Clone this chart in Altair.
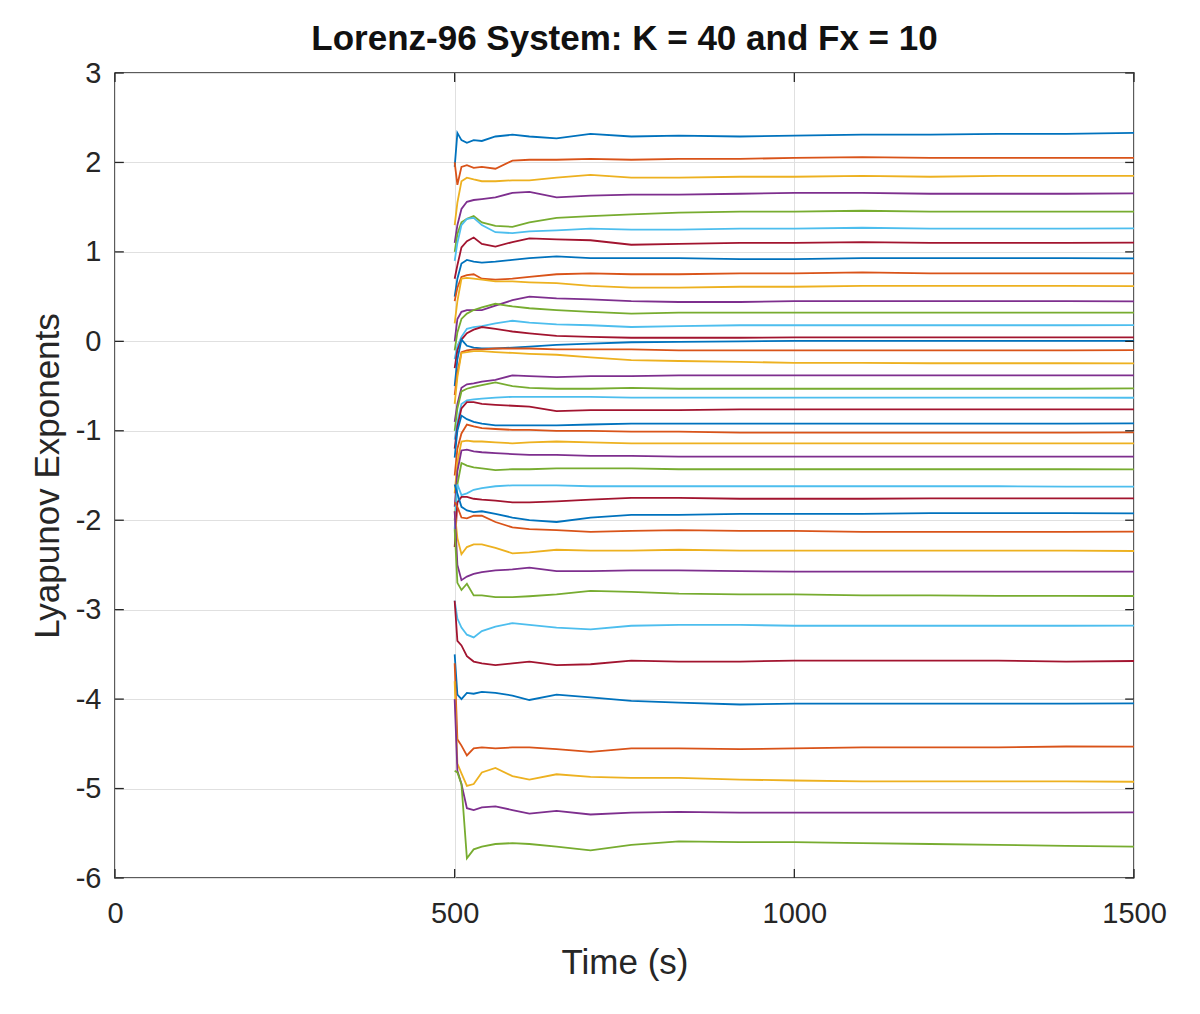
import altair as alt
import pandas as pd

# ---- data ----
times = [500, 504, 510, 518, 528, 540, 560, 585, 610, 650, 700, 760, 830, 920, 1000, 1100, 1200, 1300, 1400, 1500]

lam_01 = [1.95, 2.33, 2.25, 2.22, 2.25, 2.24, 2.29, 2.31, 2.29, 2.27, 2.32, 2.29, 2.30, 2.29, 2.30, 2.31, 2.31, 2.32, 2.32, 2.33]
lam_02 = [2.00, 1.75, 1.95, 1.97, 1.94, 1.95, 1.93, 2.02, 2.03, 2.03, 2.04, 2.03, 2.04, 2.04, 2.05, 2.06, 2.05, 2.05, 2.05, 2.05]
lam_03 = [1.30, 1.55, 1.79, 1.83, 1.81, 1.79, 1.79, 1.80, 1.80, 1.83, 1.86, 1.83, 1.83, 1.84, 1.84, 1.85, 1.84, 1.85, 1.85, 1.85]
lam_04 = [1.10, 1.30, 1.48, 1.56, 1.58, 1.59, 1.61, 1.66, 1.67, 1.61, 1.63, 1.64, 1.64, 1.65, 1.66, 1.66, 1.65, 1.65, 1.65, 1.655]
lam_05 = [1.00, 1.20, 1.33, 1.37, 1.40, 1.33, 1.29, 1.28, 1.33, 1.38, 1.40, 1.42, 1.44, 1.45, 1.45, 1.46, 1.45, 1.45, 1.45, 1.45]
lam_06 = [0.90, 1.10, 1.30, 1.37, 1.38, 1.30, 1.22, 1.21, 1.23, 1.24, 1.26, 1.25, 1.25, 1.26, 1.26, 1.27, 1.26, 1.26, 1.26, 1.263]
lam_07 = [0.70, 0.85, 1.05, 1.12, 1.16, 1.09, 1.06, 1.11, 1.15, 1.14, 1.13, 1.08, 1.09, 1.10, 1.10, 1.11, 1.10, 1.10, 1.10, 1.103]
lam_08 = [0.50, 0.70, 0.87, 0.91, 0.89, 0.88, 0.89, 0.91, 0.93, 0.95, 0.93, 0.93, 0.93, 0.92, 0.92, 0.93, 0.93, 0.93, 0.93, 0.928]
lam_09 = [0.45, 0.60, 0.72, 0.74, 0.75, 0.70, 0.69, 0.70, 0.72, 0.75, 0.76, 0.75, 0.75, 0.76, 0.76, 0.77, 0.76, 0.76, 0.76, 0.76]
lam_10 = [0.20, 0.45, 0.70, 0.71, 0.70, 0.69, 0.67, 0.67, 0.66, 0.65, 0.62, 0.60, 0.60, 0.61, 0.61, 0.62, 0.62, 0.62, 0.62, 0.618]
lam_11 = [0.00, 0.25, 0.33, 0.35, 0.35, 0.35, 0.40, 0.46, 0.50, 0.48, 0.47, 0.45, 0.44, 0.44, 0.45, 0.45, 0.45, 0.45, 0.45, 0.447]
lam_12 = [-0.10, 0.10, 0.25, 0.31, 0.35, 0.38, 0.42, 0.39, 0.37, 0.35, 0.33, 0.31, 0.32, 0.32, 0.32, 0.32, 0.32, 0.32, 0.32, 0.32]
lam_13 = [-0.20, -0.05, 0.05, 0.14, 0.16, 0.17, 0.20, 0.23, 0.21, 0.19, 0.18, 0.16, 0.17, 0.18, 0.18, 0.18, 0.18, 0.18, 0.18, 0.182]
lam_14 = [-0.30, -0.10, 0.02, 0.09, 0.13, 0.16, 0.14, 0.11, 0.09, 0.06, 0.05, 0.04, 0.04, 0.04, 0.045, 0.045, 0.045, 0.045, 0.045, 0.044]
lam_15 = [-0.50, -0.20, 0.02, -0.05, -0.07, -0.08, -0.08, -0.07, -0.06, -0.04, -0.025, -0.01, -0.005, 0.0, 0.005, 0.005, 0.005, 0.006, 0.006, 0.006]
lam_16 = [-0.60, -0.35, -0.12, -0.10, -0.09, -0.09, -0.08, -0.08, -0.08, -0.09, -0.09, -0.09, -0.10, -0.10, -0.10, -0.10, -0.10, -0.10, -0.10, -0.098]
lam_17 = [-0.70, -0.40, -0.13, -0.12, -0.11, -0.11, -0.12, -0.13, -0.14, -0.15, -0.18, -0.21, -0.22, -0.23, -0.24, -0.24, -0.245, -0.245, -0.245, -0.246]
lam_18 = [-0.90, -0.70, -0.52, -0.48, -0.47, -0.45, -0.43, -0.38, -0.39, -0.40, -0.39, -0.39, -0.38, -0.38, -0.38, -0.38, -0.38, -0.38, -0.38, -0.381]
lam_19 = [-1.00, -0.75, -0.56, -0.53, -0.51, -0.49, -0.46, -0.50, -0.52, -0.53, -0.53, -0.52, -0.53, -0.53, -0.53, -0.53, -0.53, -0.53, -0.53, -0.526]
lam_20 = [-1.10, -0.90, -0.70, -0.66, -0.65, -0.64, -0.63, -0.62, -0.62, -0.62, -0.62, -0.63, -0.63, -0.63, -0.63, -0.63, -0.63, -0.63, -0.63, -0.631]
lam_21 = [-1.20, -0.95, -0.75, -0.68, -0.68, -0.70, -0.71, -0.72, -0.73, -0.78, -0.77, -0.77, -0.77, -0.76, -0.76, -0.76, -0.76, -0.76, -0.76, -0.761]
lam_22 = [-1.30, -1.00, -0.83, -0.87, -0.90, -0.92, -0.94, -0.94, -0.94, -0.94, -0.93, -0.92, -0.92, -0.92, -0.92, -0.92, -0.92, -0.92, -0.92, -0.917]
lam_23 = [-1.50, -1.20, -1.03, -0.93, -0.95, -0.97, -0.98, -0.99, -0.99, -1.00, -1.00, -1.01, -1.01, -1.02, -1.02, -1.02, -1.02, -1.02, -1.02, -1.018]
lam_24 = [-1.70, -1.35, -1.12, -1.11, -1.12, -1.12, -1.13, -1.14, -1.13, -1.12, -1.13, -1.14, -1.14, -1.14, -1.14, -1.14, -1.14, -1.14, -1.14, -1.141]
lam_25 = [-1.85, -1.45, -1.22, -1.21, -1.23, -1.24, -1.25, -1.26, -1.27, -1.27, -1.28, -1.28, -1.29, -1.29, -1.29, -1.29, -1.29, -1.29, -1.29, -1.29]
lam_26 = [-2.00, -1.60, -1.36, -1.39, -1.41, -1.42, -1.44, -1.43, -1.43, -1.42, -1.42, -1.42, -1.43, -1.43, -1.43, -1.43, -1.43, -1.43, -1.43, -1.431]
lam_27 = [-2.10, -1.60, -1.72, -1.70, -1.66, -1.64, -1.62, -1.61, -1.61, -1.61, -1.62, -1.62, -1.62, -1.62, -1.62, -1.62, -1.62, -1.62, -1.625, -1.625]
lam_28 = [-2.30, -1.80, -1.74, -1.74, -1.76, -1.77, -1.78, -1.80, -1.80, -1.79, -1.77, -1.75, -1.75, -1.76, -1.76, -1.76, -1.755, -1.755, -1.755, -1.755]
lam_29 = [-1.60, -1.70, -1.85, -1.89, -1.91, -1.90, -1.93, -1.97, -2.00, -2.02, -1.97, -1.94, -1.94, -1.93, -1.93, -1.93, -1.92, -1.92, -1.92, -1.923]
lam_30 = [-1.80, -1.85, -1.97, -1.98, -1.95, -1.95, -2.02, -2.08, -2.10, -2.11, -2.13, -2.12, -2.11, -2.12, -2.12, -2.13, -2.13, -2.13, -2.13, -2.128]
lam_31 = [-1.90, -2.20, -2.38, -2.30, -2.27, -2.27, -2.31, -2.37, -2.36, -2.33, -2.34, -2.34, -2.33, -2.34, -2.34, -2.34, -2.34, -2.34, -2.34, -2.344]
lam_32 = [-1.90, -2.50, -2.67, -2.63, -2.60, -2.58, -2.56, -2.55, -2.53, -2.57, -2.57, -2.56, -2.56, -2.57, -2.575, -2.575, -2.575, -2.575, -2.575, -2.575]
lam_33 = [-2.10, -2.70, -2.78, -2.71, -2.84, -2.84, -2.86, -2.86, -2.85, -2.83, -2.79, -2.80, -2.82, -2.83, -2.83, -2.84, -2.84, -2.845, -2.845, -2.847]
lam_34 = [-2.90, -3.10, -3.20, -3.28, -3.31, -3.24, -3.19, -3.15, -3.17, -3.20, -3.22, -3.18, -3.17, -3.17, -3.18, -3.18, -3.18, -3.18, -3.18, -3.179]
lam_35 = [-2.90, -3.35, -3.40, -3.52, -3.58, -3.60, -3.62, -3.60, -3.58, -3.62, -3.61, -3.57, -3.58, -3.58, -3.57, -3.57, -3.57, -3.57, -3.58, -3.574]
lam_36 = [-3.50, -3.95, -4.00, -3.93, -3.94, -3.92, -3.93, -3.96, -4.01, -3.95, -3.98, -4.02, -4.04, -4.06, -4.05, -4.05, -4.05, -4.05, -4.05, -4.048]
lam_37 = [-3.60, -4.45, -4.52, -4.63, -4.55, -4.54, -4.55, -4.54, -4.54, -4.56, -4.59, -4.55, -4.55, -4.56, -4.55, -4.54, -4.54, -4.54, -4.53, -4.532]
lam_38 = [-3.80, -4.72, -4.83, -4.97, -4.95, -4.82, -4.77, -4.86, -4.90, -4.84, -4.87, -4.88, -4.88, -4.90, -4.91, -4.92, -4.92, -4.92, -4.92, -4.924]
lam_39 = [-4.00, -4.80, -4.95, -5.22, -5.24, -5.21, -5.20, -5.24, -5.28, -5.25, -5.29, -5.27, -5.26, -5.27, -5.27, -5.27, -5.27, -5.27, -5.27, -5.266]
lam_40 = [-4.80, -4.82, -4.95, -5.78, -5.68, -5.65, -5.62, -5.61, -5.62, -5.65, -5.69, -5.63, -5.59, -5.60, -5.60, -5.61, -5.62, -5.63, -5.64, -5.65]

series = [lam_01, lam_02, lam_03, lam_04, lam_05, lam_06, lam_07, lam_08, lam_09, lam_10,
          lam_11, lam_12, lam_13, lam_14, lam_15, lam_16, lam_17, lam_18, lam_19, lam_20,
          lam_21, lam_22, lam_23, lam_24, lam_25, lam_26, lam_27, lam_28, lam_29, lam_30,
          lam_31, lam_32, lam_33, lam_34, lam_35, lam_36, lam_37, lam_38, lam_39, lam_40]

x_ticks = [0, 500, 1000, 1500]
y_ticks = [-6, -5, -4, -3, -2, -1, 0, 1, 2, 3]

# MATLAB default colour order
color_order = ["#0072BD", "#D95319", "#EDB120", "#7E2F8E", "#77AC30", "#4DBEEE", "#A2142F"]

FONT = "Liberation Sans"
TXT = "#262626"
W, H = 1019, 805
X_DOM = [0, 1500]
Y_DOM = [-6, 3]

rows = []
names = []
for i, vals in enumerate(series):
    name = f"L{i + 1:02d}"
    names.append(name)
    for t, v in zip(times, vals):
        rows.append({"t": t, "v": v, "s": name})
df = pd.DataFrame(rows)
colors = [color_order[i % len(color_order)] for i in range(len(series))]

# inward tick marks (MATLAB style), lengths in data units
tx = 13.0
ty = 0.1
tick_rows = []
for xv in x_ticks:
    tick_rows.append({"t": xv, "t2": xv, "v": Y_DOM[0], "v2": Y_DOM[0] + ty})
    tick_rows.append({"t": xv, "t2": xv, "v": Y_DOM[1], "v2": Y_DOM[1] - ty})
for yv in y_ticks:
    tick_rows.append({"t": X_DOM[0], "t2": X_DOM[0] + tx, "v": yv, "v2": yv})
    tick_rows.append({"t": X_DOM[1], "t2": X_DOM[1] - tx, "v": yv, "v2": yv})
ticks_df = pd.DataFrame(tick_rows)

xscale = alt.Scale(domain=X_DOM, nice=False, zero=False)
yscale = alt.Scale(domain=Y_DOM, nice=False, zero=False)

x_axis = alt.Axis(
    values=x_ticks, title="Time (s)", grid=True, ticks=False, domain=False,
    labelExpr="'' + datum.value", labelFlush=False, labelOverlap=False,
    labelFont=FONT, labelFontSize=29, labelColor=TXT, labelPadding=21,
    titleFont=FONT, titleFontSize=35, titleFontWeight="normal", titleColor=TXT,
    titleX=W / 2, titleY=95, titleBaseline="alphabetic", titleAlign="center",
    gridColor="#e0e0e0", gridWidth=1,
)
y_axis = alt.Axis(
    values=y_ticks, title="Lyapunov Exponents", grid=True, ticks=False, domain=False,
    labelExpr="'' + datum.value", labelFlush=False, labelOverlap=False,
    labelFont=FONT, labelFontSize=29, labelColor=TXT, labelPadding=14,
    labelBaseline="middle",
    titleFont=FONT, titleFontSize=35, titleFontWeight="normal", titleColor=TXT,
    titleX=-57, titleY=H / 2, titleAngle=270, titleBaseline="alphabetic", titleAlign="center",
    gridColor="#e0e0e0", gridWidth=1,
)

lines = alt.Chart(df).mark_line(strokeWidth=1.8, clip=True).encode(
    x=alt.X("t:Q", scale=xscale, axis=x_axis),
    y=alt.Y("v:Q", scale=yscale, axis=y_axis),
    color=alt.Color("s:N", scale=alt.Scale(domain=names, range=colors), legend=None),
    detail="s:N",
    order=alt.Order("t:Q"),
)

tick_marks = alt.Chart(ticks_df).mark_rule(color=TXT, strokeWidth=1.3).encode(
    x=alt.X("t:Q", scale=xscale),
    x2="t2:Q",
    y=alt.Y("v:Q", scale=yscale),
    y2="v2:Q",
)

chart = alt.layer(lines, tick_marks).properties(
    width=W,
    height=H,
    title=alt.TitleParams(
        "Lorenz-96 System: K = 40 and Fx = 10",
        font=FONT, fontSize=35, fontWeight="bold", color="#111111",
        anchor="middle", baseline="alphabetic", offset=-26,
    ),
    padding={"left": 107, "top": 65, "right": 50, "bottom": 110},
    autosize=alt.AutoSizeParams(type="none"),
).configure_view(
    stroke=TXT, strokeWidth=1.5
)

chart.save("out.html", embed_options={"renderer": "svg", "actions": False})
